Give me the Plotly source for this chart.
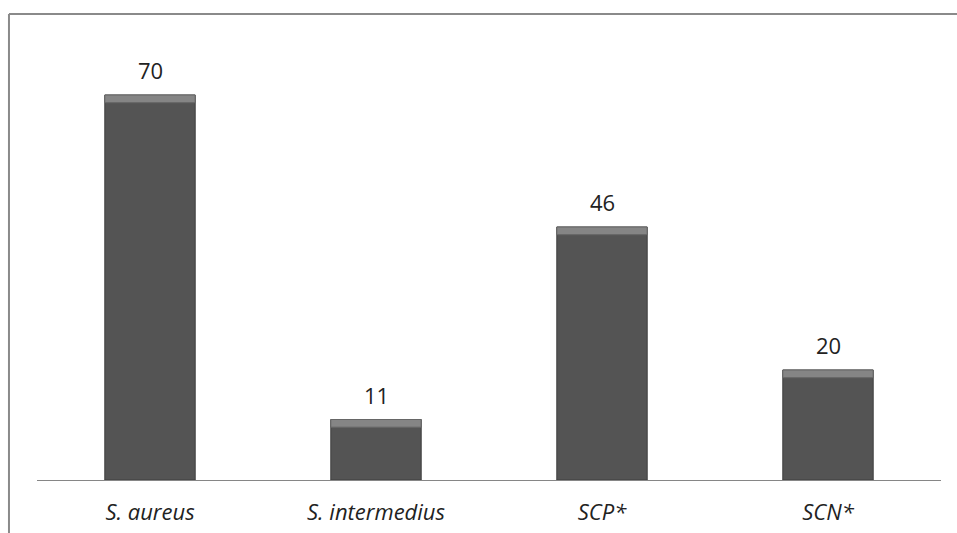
import plotly.graph_objects as go

# Isolates per group
categories = ["S. aureus", "S. intermedius", "SCP*", "SCN*"]
counts = [70, 11, 46, 20]
tick_text = ["<i>S. aureus</i>", "<i>S. intermedius</i>", "<i>SCP*</i>", "<i>SCN*</i>"]

BAR_W = 0.4
BEVEL = 1.4  # height of the lighter top band, in data units

fig = go.Figure()

# main bar body
fig.add_trace(go.Bar(
    x=categories, y=counts, width=BAR_W,
    marker=dict(color="#545454", line=dict(color="#3e3e3e", width=1)),
    hoverinfo="skip",
))
# lighter bevel on top of each bar
fig.add_trace(go.Bar(
    x=categories, y=[BEVEL] * len(counts), base=[v - BEVEL for v in counts],
    width=BAR_W,
    marker=dict(color="#858585", line=dict(color="#666666", width=1)),
    hoverinfo="skip",
))

for c, v in zip(categories, counts):
    fig.add_annotation(x=c, y=v, text=str(v), showarrow=False,
                       yanchor="bottom", yshift=8,
                       font=dict(family="Open Sans", size=22, color="#222222"))

# chart frame: top and left edges
frame = dict(color="#8a8a8a", width=2)
fig.add_shape(type="line", xref="paper", yref="paper",
              x0=-0.031, x1=1.02, y0=1.059, y1=1.059, line=frame)
fig.add_shape(type="line", xref="paper", yref="paper",
              x0=-0.031, x1=-0.031, y0=1.059, y1=-0.13, line=frame)

fig.update_layout(
    width=957, height=533,
    margin=dict(l=37, r=16, t=40, b=53, autoexpand=False),
    paper_bgcolor="white", plot_bgcolor="white",
    showlegend=False, barmode="overlay",
    xaxis=dict(tickmode="array", tickvals=categories, ticktext=tick_text,
               showline=True, linecolor="#868686", linewidth=1,
               ticks="", ticklabelstandoff=13, automargin=False,
               tickfont=dict(family="Open Sans", size=22, color="#222222"),
               showgrid=False),
    yaxis=dict(range=[0, 80], visible=False, showgrid=False, automargin=False),
)

fig.write_html("out.html")
